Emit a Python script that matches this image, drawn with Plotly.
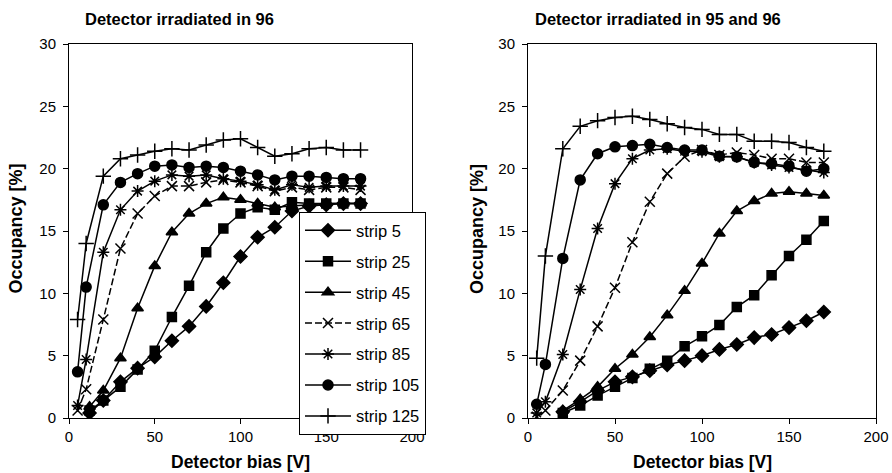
import plotly.graph_objects as go

# ---------------- data ----------------
strip_names = ["strip 5", "strip 25", "strip 45", "strip 65", "strip 85", "strip 105", "strip 125"]

# Left panel: detector irradiated in 96
x_left_low = [12, 20, 30, 40, 50, 60, 70, 80, 90, 100, 110, 120, 130, 140, 150, 160, 170]
x_left_high = [5, 10, 20, 30, 40, 50, 60, 70, 80, 90, 100, 110, 120, 130, 140, 150, 160, 170]

left_s5 = [0.4, 1.4, 2.9, 4.0, 4.9, 6.2, 7.35, 8.95, 10.85, 12.95, 14.5, 15.3, 16.6, 17.0, 17.1, 17.2, 17.2]
left_s25 = [0.6, 1.4, 2.5, 3.9, 5.4, 8.1, 10.6, 13.3, 15.2, 16.4, 16.9, 16.7, 17.3, 17.2, 17.2, 17.2, 17.2]
left_s45 = [0.9, 2.2, 4.8, 8.8, 12.2, 14.9, 16.4, 17.2, 17.7, 17.5, 17.2, 16.9, 17.0, 17.1, 17.2, 17.2, 17.2]
left_s65 = [0.6, 2.3, 7.9, 13.6, 16.4, 17.8, 18.6, 18.6, 18.9, 19.1, 18.9, 18.6, 18.2, 18.5, 18.3, 18.5, 18.5, 18.3]
left_s85 = [1.0, 4.7, 13.3, 16.7, 18.2, 19.0, 19.5, 19.4, 19.5, 19.2, 19.0, 18.7, 18.3, 18.7, 18.5, 18.6, 18.6, 18.6]
left_s105 = [3.7, 10.5, 17.1, 18.9, 19.6, 20.2, 20.3, 20.1, 20.2, 20.1, 19.8, 19.5, 19.1, 19.4, 19.4, 19.3, 19.2, 19.2]
left_s125 = [7.9, 14.0, 19.4, 20.8, 21.1, 21.4, 21.6, 21.5, 21.9, 22.3, 22.4, 21.7, 21.0, 21.2, 21.6, 21.7, 21.5, 21.5]

# Right panel: detector irradiated in 95 and 96
x_right_low = [20, 30, 40, 50, 60, 70, 80, 90, 100, 110, 120, 130, 140, 150, 160, 170]
x_right_high = [5, 10, 20, 30, 40, 50, 60, 70, 80, 90, 100, 110, 120, 130, 140, 150, 160, 170]

right_s5 = [0.5, 1.3, 2.2, 2.9, 3.3, 3.8, 4.25, 4.6, 5.0, 5.5, 5.9, 6.45, 6.7, 7.25, 7.8, 8.5]
right_s25 = [0.4, 1.0, 1.8, 2.5, 3.2, 3.95, 4.6, 5.75, 6.55, 7.45, 8.9, 9.85, 11.45, 13.0, 14.3, 15.8]
right_s45 = [0.6, 1.5, 2.5, 3.95, 5.1, 6.5, 8.25, 10.2, 12.4, 14.8, 16.6, 17.4, 18.0, 18.15, 18.0, 17.85]
right_s65 = [0.1, 0.6, 2.2, 4.6, 7.35, 10.45, 14.1, 17.35, 19.6, 20.95, 21.5, 21.1, 21.3, 21.1, 20.8, 20.8, 20.5, 20.5]
right_s85 = [0.4, 1.3, 5.1, 10.3, 15.2, 18.8, 20.8, 21.5, 21.6, 21.4, 21.35, 20.95, 20.95, 20.5, 20.3, 20.1, 19.9, 19.7]
right_s105 = [1.1, 4.3, 12.8, 19.1, 21.2, 21.75, 21.85, 21.95, 21.7, 21.5, 21.5, 21.0, 20.95, 20.5, 20.4, 20.2, 19.8, 20.0]
right_s125 = [4.8, 13.0, 21.6, 23.4, 23.85, 24.1, 24.2, 23.95, 23.6, 23.3, 23.15, 22.75, 22.75, 22.2, 22.2, 22.1, 21.7, 21.4]

y_ticks = [0, 5, 10, 15, 20, 25, 30]
x_ticks = [0, 50, 100, 150, 200]

panel_titles = ["Detector irradiated in 96", "Detector irradiated in 95 and 96"]
x_title = "Detector bias [V]"
y_title = "Occupancy [%]"

# ---------------- styles ----------------
styles = [
    dict(symbol="diamond", size=10, dash="solid"),
    dict(symbol="square", size=9, dash="solid"),
    dict(symbol="triangle-up", size=10, dash="solid"),
    dict(symbol="x-thin-open", size=10, dash="7px,3px"),
    dict(symbol="asterisk-open", size=10, dash="solid"),
    dict(symbol="circle", size=10, dash="solid"),
    dict(symbol="cross-thin-open", size=11, dash="solid"),
]

left_x = [x_left_low] * 3 + [x_left_high] * 4
left_y = [left_s5, left_s25, left_s45, left_s65, left_s85, left_s105, left_s125]
right_x = [x_right_low] * 3 + [x_right_high] * 4
right_y = [right_s5, right_s25, right_s45, right_s65, right_s85, right_s105, right_s125]

fig = go.Figure()
for i, name in enumerate(strip_names):
    st = styles[i]
    for panel, (xs, ys) in enumerate([(left_x[i], left_y[i]), (right_x[i], right_y[i])]):
        fig.add_trace(go.Scatter(
            x=xs, y=ys, name=name, mode="lines+markers",
            legendgroup=name, showlegend=(panel == 0),
            xaxis="x" if panel == 0 else "x2",
            yaxis="y" if panel == 0 else "y2",
            line=dict(color="black", width=1.5, dash=st["dash"]),
            marker=dict(symbol=st["symbol"], size=st["size"], color="black",
                        line=dict(color="black", width=1.5)),
        ))

W, H = 892, 473
top_px, bot_px = 44, 418
dom_y = [1 - bot_px / H, 1 - top_px / H]
dom_x1 = [69 / W, 412 / W]
dom_x2 = [528 / W, 876 / W]

tickfont = dict(family="Liberation Sans, Arial, sans-serif", size=15, color="black")
common_x = dict(range=[0, 200], tickvals=x_ticks, showline=True, mirror=True, linecolor="black",
                linewidth=1, ticks="outside", ticklen=5, tickcolor="black", showgrid=False,
                zeroline=False, tickfont=tickfont, automargin=False)
common_y = dict(range=[0, 30], tickvals=y_ticks, showline=True, mirror=True, linecolor="black",
                linewidth=1, ticks="outside", ticklen=5, tickcolor="black", showgrid=False,
                zeroline=False, tickfont=tickfont, ticklabelstandoff=4, automargin=False)

fig.update_layout(
    width=W, height=H,
    margin=dict(l=0, r=0, t=0, b=0, pad=0, autoexpand=False),
    paper_bgcolor="white", plot_bgcolor="white",
    xaxis=dict(domain=dom_x1, anchor="y", **common_x),
    yaxis=dict(domain=dom_y, anchor="x", **common_y),
    xaxis2=dict(domain=dom_x2, anchor="y2", **common_x),
    yaxis2=dict(domain=dom_y, anchor="x2", **common_y),
    legend=dict(x=299 / W, y=1 - 212 / H, xanchor="left", yanchor="top",
                bgcolor="white", bordercolor="black", borderwidth=1,
                font=dict(family="Liberation Sans, Arial, sans-serif", size=16.5, color="black"),
                traceorder="grouped", tracegroupgap=6.5, itemwidth=46),
    showlegend=True,
)

bold = "Liberation Sans, Arial, sans-serif"
ann = []
for cx, t in zip([179.5, 658], panel_titles):
    ann.append(dict(text="<b>%s</b>" % t, x=cx / W, y=1 - 19 / H, xref="paper", yref="paper",
                    xanchor="center", yanchor="middle", showarrow=False,
                    font=dict(family=bold, size=16.5, color="black")))
for cx in [240.5, 702]:
    ann.append(dict(text="<b>%s</b>" % x_title, x=cx / W, y=1 - 462 / H, xref="paper", yref="paper",
                    xanchor="center", yanchor="middle", showarrow=False,
                    font=dict(family=bold, size=17.5, color="black")))
for cx in [15.5, 477]:
    ann.append(dict(text="<b>%s</b>" % y_title, x=cx / W, y=1 - 229 / H, xref="paper", yref="paper",
                    xanchor="center", yanchor="middle", showarrow=False, textangle=-90,
                    font=dict(family=bold, size=18, color="black")))
fig.update_layout(annotations=ann)

fig.write_html("out.html", config={"displayModeBar": False},
               post_script="document.body.style.margin='0px';document.body.style.overflow='hidden';")
